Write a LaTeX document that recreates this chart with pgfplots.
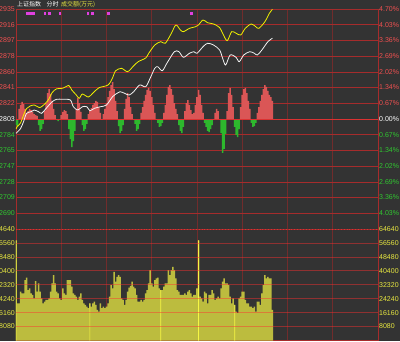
\documentclass[border=0pt]{standalone}
\usepackage{pgfplots}
\usepackage{pgfplotstable}
\pgfplotsset{compat=1.18}
\usepackage{fontspec}
\setmainfont{Liberation Sans}
\newfontfamily\cjk{Noto Sans CJK SC}
\definecolor{bg}{HTML}{333333}
\definecolor{gridred}{HTML}{A62C2C}
\definecolor{vgrid}{HTML}{712C2C}
\definecolor{zeroline}{HTML}{DC3232}
\definecolor{labred}{HTML}{F05050}
\definecolor{labgreen}{HTML}{30C830}
\definecolor{labyel}{HTML}{E8E840}
\definecolor{barred}{HTML}{DA5656}
\definecolor{bargreen}{HTML}{2DB82D}
\definecolor{volbar}{HTML}{BCBC3E}
\definecolor{volbright}{HTML}{F6F644}
\definecolor{linewhite}{HTML}{F2F2F2}
\definecolor{lineyellow}{HTML}{F0F000}
\definecolor{mag}{HTML}{E040E0}
\definecolor{volgrid}{HTML}{FF3030}
\newcommand{\lab}[2]{\mbox{\color{#1}#2}}

\pgfplotstableread{
t p
0 2785.9
3 2791.5
5 2799.8
7 2809.8
10 2811.7
12 2813.8
15 2811.7
17 2809.8
20 2815.8
24 2823.7
27 2826.6
31 2826.6
36 2825.8
38 2817.7
41 2813.8
44 2817.7
47 2817.7
49 2812.9
52 2815.8
56 2817.7
60 2819.8
64 2829.7
67 2833.8
69 2835.7
72 2833.8
75 2831.7
78 2835.7
82 2843.7
86 2841.7
89 2852.1
92 2863.7
94 2865.6
97 2860.8
100 2869.7
105 2883.6
108 2883.6
111 2876.9
115 2881.7
118 2883.6
120 2881.7
124 2889.6
127 2893.7
131 2891.6
135 2885.6
137 2875.7
139 2867.7
142 2879.7
146 2876.7
148 2871.6
151 2879.7
155 2883.6
158 2881.7
160 2879.7
163 2885.6
167 2895.6
170 2899.7
}\whiteline

\pgfplotstableread{
t p
0 2791.0
1 2794.6
3 2798.2
7 2815.5
12 2819.8
16 2816.8
21 2824.8
24 2834.7
27 2839.2
31 2839.8
35 2843.1
37 2837.7
40 2831.7
42 2827.8
44 2832.9
48 2829.3
51 2834.1
55 2840.4
61 2843.7
64 2852.1
66 2860.7
70 2863.7
74 2859.7
78 2866.7
81 2871.6
86 2876.1
88 2881.7
92 2891.6
96 2895.6
99 2893.7
103 2905.6
106 2915.6
109 2909.6
111 2907.6
115 2911.6
119 2913.5
121 2915.6
124 2921.6
127 2918.3
131 2916.8
135 2912.5
137 2905.6
140 2896.8
143 2907.6
146 2905.6
149 2903.6
152 2911.6
156 2916.8
159 2913.5
161 2911.6
165 2919.5
168 2929.6
170 2934.4
}\yellowline

\pgfplotstableread{
t v
2 0.43
3 0.60
4 0.73
5 0.64
6 0.43
7 0.26
8 0.34
9 0.43
10 0.38
11 0.30
12 0.21
13 0.17
14 0.13
19 0.34
20 0.68
21 1.11
22 1.28
23 1.07
24 0.77
25 0.43
26 0.17
30 0.17
31 0.30
32 0.38
33 0.34
34 0.21
40 0.43
41 0.90
42 0.68
43 0.30
48 0.21
49 0.34
50 0.47
51 0.60
52 0.68
53 0.77
54 0.73
55 0.51
56 0.26
58 0.21
59 0.43
60 0.68
61 0.94
62 1.20
63 1.45
64 1.58
65 1.28
66 0.77
67 0.34
72 0.43
73 0.86
74 1.11
75 0.94
76 0.51
77 0.21
83 0.26
84 0.51
85 0.77
86 1.03
87 1.24
88 1.33
89 1.20
90 0.94
91 0.60
92 0.26
98 0.26
99 0.60
100 1.03
101 1.37
102 1.45
103 1.28
104 1.03
105 0.68
106 0.43
107 0.21
112 0.34
113 0.68
114 0.81
115 0.60
116 0.38
117 0.21
118 0.26
119 0.60
120 0.94
121 1.24
122 1.03
123 0.60
124 0.26
132 0.26
133 0.43
134 0.34
140 0.34
141 1.11
142 1.33
143 1.03
144 0.51
149 0.51
150 1.03
151 1.28
152 1.33
153 1.11
154 0.77
155 0.43
160 0.26
161 0.51
162 0.77
163 1.03
164 1.28
165 1.45
166 1.37
167 1.20
168 1.03
169 0.94
170 0.77
}\redbars

\pgfplotstableread{
t v
0 -0.26
1 -0.34
15 -0.26
16 -0.51
17 -0.43
18 -0.21
28 -0.09
35 -0.43
36 -0.86
37 -1.20
38 -0.94
39 -0.51
44 -0.26
45 -0.51
46 -0.43
47 -0.21
68 -0.30
69 -0.60
70 -0.51
71 -0.26
79 -0.21
80 -0.51
81 -0.43
82 -0.21
94 -0.17
95 -0.34
96 -0.30
97 -0.17
108 -0.26
109 -0.51
110 -0.60
111 -0.34
125 -0.17
126 -0.34
127 -0.51
128 -0.56
129 -0.43
130 -0.26
136 -0.60
137 -1.45
138 -1.28
139 -0.64
145 -0.34
146 -0.68
147 -0.77
148 -0.43
156 -0.17
157 -0.34
158 -0.30
159 -0.17
}\greenbars

\pgfplotstableread{
t v
0 58100
1 21500
2 21500
3 28300
4 27300
5 27300
6 35000
7 36400
8 29200
9 30200
10 27300
11 26400
12 24400
13 34400
14 28300
15 33100
16 28300
17 24400
18 21500
19 22500
20 23500
21 23500
22 24400
23 28300
24 33100
25 37900
26 33100
27 28300
28 27300
29 24400
30 23500
31 30200
32 27300
33 26400
34 35000
35 35000
36 35000
37 31200
38 27300
39 26400
40 25400
41 23500
42 25400
43 27300
44 23500
45 21500
46 20600
47 19600
48 18700
49 21500
50 19600
51 21500
52 22500
53 20600
54 17700
55 16700
56 21500
57 18700
58 19600
59 18700
60 19600
61 21500
62 25400
63 32100
64 30200
65 39800
66 34100
67 36900
68 37900
69 36900
70 24400
71 23500
72 20600
73 23500
74 28300
75 30600
76 31700
77 34100
78 31200
79 30200
80 26400
81 22500
82 22500
83 23500
84 22500
85 23500
86 27300
87 29200
88 33100
89 40800
90 33100
91 31200
92 35000
93 36000
94 36400
95 30200
96 29200
97 29200
98 31200
99 33100
100 33100
101 40800
102 37900
103 40800
104 42700
105 40800
106 36000
107 29200
108 28300
109 26400
110 26400
111 26400
112 27300
113 26400
114 28300
115 29200
116 27300
117 25400
118 26400
119 26400
120 30200
121 58100
122 25400
123 24400
124 22500
125 28300
126 27300
127 21500
128 26400
129 26400
130 29200
131 27300
132 23500
133 24400
134 25400
135 24400
136 30200
137 34100
138 36000
139 33100
140 33100
141 32100
142 25400
143 21500
144 24400
145 20600
146 16700
147 15800
148 24400
149 25400
150 28300
151 28300
152 23500
153 21500
154 21500
155 19600
156 19600
157 18700
158 19600
159 16700
160 22500
161 22500
162 20600
163 27300
164 32100
165 37900
166 36000
167 36900
168 36000
169 36000
170 17700
}\volume

\pgfplotstableread{
t v
0 58100
49 21500
96 29200
121 58100
145 20600
}\volbright

\begin{document}
\begin{tikzpicture}
\fill[bg] (-16pt,-0.5pt) rectangle (384pt,340.5pt);

% ---------- price panel (left labels) ----------
\begin{axis}[at={(0pt,111.5pt)}, anchor=south west, scale only axis,
  width=362pt, height=220pt,
  xmin=0, xmax=240, ymin=-4.7, ymax=4.7,
  xtick={30,60,90,120,150,180,210}, xticklabels={},
  ytick={-4.0286,-3.3571,-2.6857,-2.0143,-1.3429,-0.6714,0,0.6714,1.3429,2.0143,2.6857,3.3571,4.0286,4.7},
  yticklabels={\lab{labgreen}{2690},\lab{labgreen}{2709},\lab{labgreen}{2728},\lab{labgreen}{2747},\lab{labgreen}{2765},\lab{labgreen}{2784},\lab{white}{2803},\lab{labred}{2822},\lab{labred}{2841},\lab{labred}{2860},\lab{labred}{2878},\lab{labred}{2897},\lab{labred}{2916},\lab{labred}{2935}},
  major tick length=0,
  xmajorgrids, ymajorgrids,
  x grid style={vgrid, line width=0.6pt},
  y grid style={gridred, line width=0.7pt},
  axis line style={gridred, line width=0.8pt},
  tick label style={font=\fontsize{7}{7}\selectfont},
  yticklabel style={inner xsep=1pt},
]
\addplot[ybar, bar width=1, bar shift=0pt, fill=barred, draw=none] table[x=t, y=v] {\redbars};
\addplot[ybar, bar width=1, bar shift=0pt, fill=bargreen, draw=none] table[x=t, y=v] {\greenbars};
\draw[zeroline, line width=1pt] (axis cs:0,0) -- (axis cs:240,0);
\addplot[linewhite, line width=0.8pt, smooth, tension=0.5] table[x=t, y expr=(\thisrow{p}-2803)/28.03] {\whiteline};
\addplot[lineyellow, line width=0.8pt, smooth, tension=0.5] table[x=t, y expr=(\thisrow{p}-2803)/28.03] {\yellowline};
\addplot[only marks, mark=square*, mark size=0.8pt, mag] coordinates {
 (7,4.53) (8.5,4.53) (10,4.53) (11.5,4.53) (19,4.53) (22,4.53) (29,4.53) (47.5,4.53) (50.5,4.53) (61,4.53) (116,4.53)};
\end{axis}

% ---------- price panel (right labels) ----------
\begin{axis}[at={(0pt,111.5pt)}, anchor=south west, scale only axis,
  width=362pt, height=220pt,
  xmin=0, xmax=240, ymin=-4.7, ymax=4.7,
  axis x line=none, axis y line*=right, xtick=\empty,
  ytick={-4.0286,-3.3571,-2.6857,-2.0143,-1.3429,-0.6714,0,0.6714,1.3429,2.0143,2.6857,3.3571,4.0286,4.7},
  yticklabels={\lab{labgreen}{4.03\%},\lab{labgreen}{3.36\%},\lab{labgreen}{2.69\%},\lab{labgreen}{2.02\%},\lab{labgreen}{1.34\%},\lab{labgreen}{0.67\%},\lab{white}{0.00\%},\lab{labred}{0.67\%},\lab{labred}{1.34\%},\lab{labred}{2.02\%},\lab{labred}{2.69\%},\lab{labred}{3.36\%},\lab{labred}{4.03\%},\lab{labred}{4.70\%}},
  major tick length=0,
  axis line style={gridred, line width=0.8pt},
  tick label style={font=\fontsize{7}{7}\selectfont},
  yticklabel style={inner xsep=1pt},
]
\end{axis}

% ---------- volume panel ----------
\begin{axis}[at={(0pt,0pt)}, anchor=south west, scale only axis,
  width=362pt, height=111.5pt,
  xmin=0, xmax=240, ymin=0, ymax=64640,
  xtick={30,60,90,120,150,180,210}, xticklabels={},
  ytick={8080,16160,24240,32320,40400,48480,56560,64640},
  yticklabels={\lab{labyel}{8080},\lab{labyel}{6160},\lab{labyel}{4240},\lab{labyel}{2320},\lab{labyel}{0400},\lab{labyel}{8480},\lab{labyel}{6560},\lab{labyel}{4640}},
  scaled y ticks=false,
  major tick length=0,
  xmajorgrids,
  x grid style={vgrid, line width=0.6pt},
  axis line style={gridred, line width=0.8pt},
  tick label style={font=\fontsize{7}{7}\selectfont},
  yticklabel style={inner xsep=1pt},
]
\addplot[ybar, bar width=1, bar shift=0pt, fill=volbar, draw=none] table[x=t, y=v] {\volume};
\addplot[ybar, bar width=0.45, bar shift=0pt, fill=volbright, draw=none] table[x=t, y=v] {\volbright};
\pgfplotsinvokeforeach{8080,16160,24240,32320,40400,48480,56560}{
  \draw[volgrid, opacity=0.45, line width=0.7pt] (axis cs:0,#1) -- (axis cs:240,#1);
}
\draw[zeroline, dotted, line width=0.9pt] (axis cs:0,64640) -- (axis cs:240,64640);
\end{axis}

\begin{axis}[at={(0pt,0pt)}, anchor=south west, scale only axis,
  width=362pt, height=111.5pt,
  xmin=0, xmax=240, ymin=0, ymax=64640,
  axis x line=none, axis y line*=right, xtick=\empty,
  ytick={8080,16160,24240,32320,40400,48480,56560,64640},
  yticklabels={\lab{labyel}{8080},\lab{labyel}{16160},\lab{labyel}{24240},\lab{labyel}{32320},\lab{labyel}{40400},\lab{labyel}{48480},\lab{labyel}{56560},\lab{labyel}{64640}},
  scaled y ticks=false,
  major tick length=0,
  axis line style={gridred, line width=0.8pt},
  tick label style={font=\fontsize{7}{7}\selectfont},
  yticklabel style={inner xsep=1pt},
]
\end{axis}

% ---------- title ----------
\node[anchor=west, inner sep=0pt, text=white, font=\cjk\fontsize{6}{6}\selectfont] at (1pt,336pt) {上证指数};
\node[anchor=west, inner sep=0pt, text=white, font=\cjk\fontsize{6}{6}\selectfont] at (30.5pt,336pt) {分时};
\node[anchor=west, inner sep=0pt, text=labyel, font=\cjk\fontsize{6}{6}\selectfont] at (45pt,336pt) {成交额(万元)};

\pgfresetboundingbox
\path[use as bounding box] (-16pt,-0.5pt) rectangle (384pt,340.5pt);
\end{tikzpicture}
\end{document}
